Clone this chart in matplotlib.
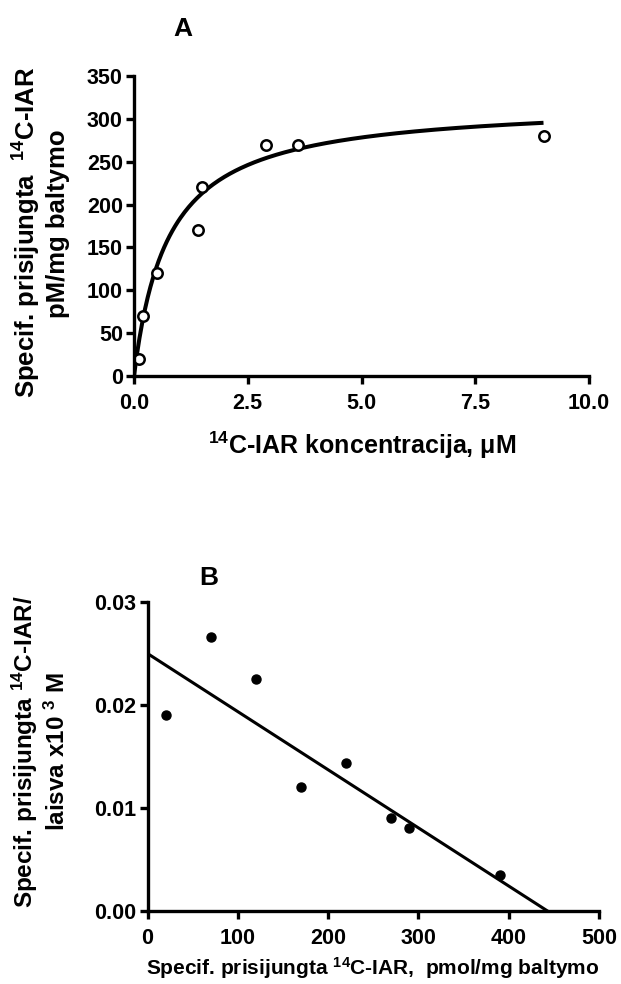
import numpy as np
import matplotlib
matplotlib.use('Agg')
import matplotlib.pyplot as plt

plt.rcParams['font.family'] = ['Liberation Sans', 'DejaVu Sans']
plt.rcParams['mathtext.fontset'] = 'custom'
plt.rcParams['mathtext.rm'] = 'Liberation Sans:bold'
plt.rcParams['mathtext.bf'] = 'Liberation Sans:bold'
plt.rcParams['mathtext.default'] = 'bf'

NARROW = ['Liberation Sans Narrow', 'Liberation Sans', 'DejaVu Sans']

# saturation binding (A)
conc_um = [0.1, 0.2, 0.5, 1.4, 1.5, 2.9, 3.6, 9.0]
bound_a = [20, 70, 120, 170, 220, 270, 270, 280]
# one-site hyperbola fit
bmax = 320.0
kd = 0.75

# Scatchard (B)
bound_b = [20, 70, 120, 170, 220, 270, 290, 390]
bound_free = [0.0190, 0.0266, 0.0225, 0.0120, 0.0144, 0.0090, 0.0081, 0.0035]
scat_intercept = 0.025
scat_xint = 443.0

W, H = 621, 984
fig = plt.figure(figsize=(W / 100., H / 100.), dpi=100)


def frac(x0, y0, x1, y1):
    # pixel box -> figure fraction rect
    return [x0 / W, 1 - y1 / H, (x1 - x0) / W, (y1 - y0) / H]


def style_axes(ax):
    for side in ['top', 'right']:
        ax.spines[side].set_visible(False)
    for side in ['left', 'bottom']:
        ax.spines[side].set_linewidth(2.4)
        ax.spines[side].set_capstyle('projecting')
    ax.tick_params(width=2.4, length=6, direction='out')
    ax.tick_params(axis='x', pad=6)
    ax.tick_params(axis='y', pad=2)
    for lab in ax.get_xticklabels() + ax.get_yticklabels():
        lab.set_family(NARROW)
        lab.set_fontweight('bold')
        lab.set_fontsize(15.5)


def ftext(x, y, s, **kw):
    fig.text(x / W, 1 - y / H, s, **kw)


# ---- panel A ----
axA = fig.add_axes(frac(134, 76, 589, 376))
xs = np.linspace(0, conc_um[-1], 300)
axA.plot(xs, bmax * xs / (kd + xs), color='black', lw=2.9, solid_capstyle='butt')
axA.plot(conc_um, bound_a, 'o', ms=7.5, mfc='white', mec='black', mew=1.8, clip_on=False)
axA.set_xlim(0, 10)
axA.set_ylim(0, 350)
axA.set_xticks([0, 2.5, 5.0, 7.5, 10.0])
axA.set_xticklabels(['0.0', '2.5', '5.0', '7.5', '10.0'])
axA.set_yticks(range(0, 351, 50))
style_axes(axA)

ftext(183, 29, 'A', fontsize=19, fontweight='bold', ha='center', va='center')
ftext(27, 232, r'Specif. prisijungta  $^{14}$C-IAR', fontsize=18.5, fontweight='bold',
      rotation=90, ha='center', va='center')
ftext(58, 224, 'pM/mg baltymo', fontsize=18.5, fontweight='bold',
      rotation=90, ha='center', va='center')
ftext(362, 445, r'$^{14}$C-IAR koncentracija, μM', fontsize=18, fontweight='bold',
      family=NARROW, ha='center', va='center')

# ---- panel B ----
axB = fig.add_axes(frac(147.5, 602, 599, 911))
xl = np.array([0, scat_xint])
axB.plot(xl, scat_intercept * (1 - xl / scat_xint), color='black', lw=2.2)
axB.plot(bound_b, bound_free, 'o', ms=6.5, color='black', clip_on=False)
axB.set_xlim(0, 500)
axB.set_ylim(0, 0.03)
axB.set_xticks(range(0, 501, 100))
axB.set_yticks([0, 0.01, 0.02, 0.03])
axB.set_yticklabels(['0.00', '0.01', '0.02', '0.03'])
style_axes(axB)

ftext(209, 578, 'B', fontsize=19, fontweight='bold', ha='center', va='center')
ftext(25, 752, r'Specif. prisijungta $^{14}$C-IAR/', fontsize=17.5, fontweight='bold',
      rotation=90, ha='center', va='center')
ftext(57, 752, r'laisva x10 $^{3}$ M', fontsize=17.5, fontweight='bold',
      rotation=90, ha='center', va='center')
ftext(373, 968, r'Specif. prisijungta $^{14}$C-IAR,  pmol/mg baltymo', fontsize=15,
      fontweight='bold', family=NARROW, ha='center', va='center')

fig.savefig('out.png', dpi=100)
